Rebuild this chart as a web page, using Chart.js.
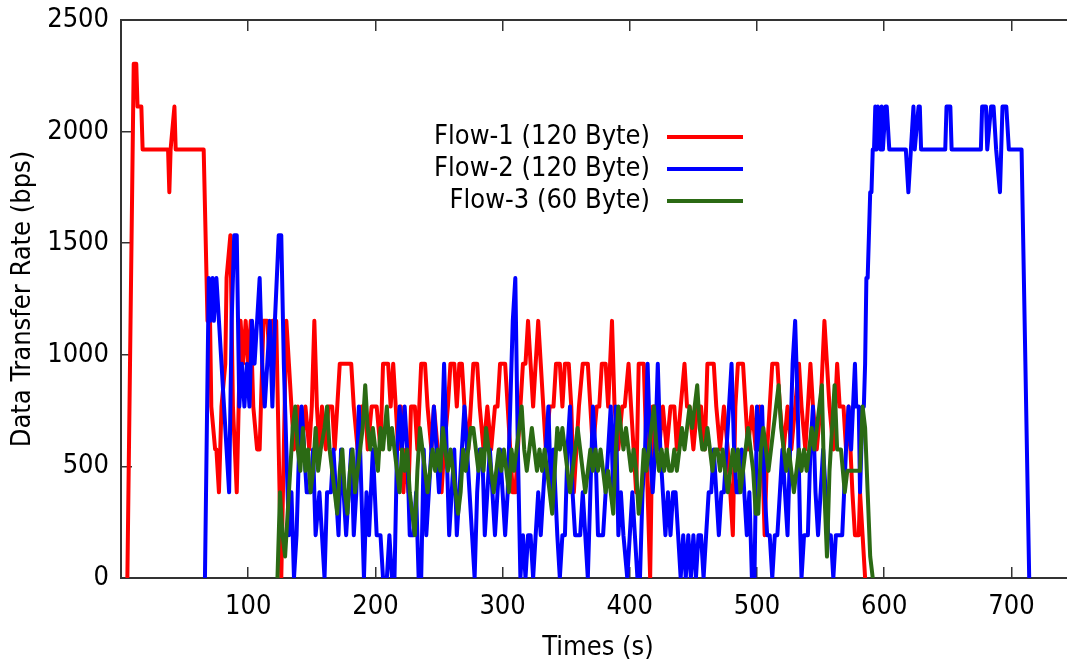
<!DOCTYPE html>
<html>
<head>
<meta charset="utf-8">
<script src="https://cdn.jsdelivr.net/npm/chart.js@4/dist/chart.umd.min.js"></script>
<style>
  html, body { margin: 0; padding: 0; background: #fff; overflow: hidden; width: 1067px; height: 664px; }
  canvas { display: block; }
</style>
</head>
<body>
<canvas id="rateChart" width="1076" height="664"></canvas>
<script>
// Sample times (s) and measured data transfer rates (bps) for each flow
const flow1Time = [5,10,12,13,16,17,37,38,39,42,43,65,68,70,71,74,75,77,79,82,83,86,88,91,94,96,98,100,102,104,107,109,112,115,117,119,122,124,126,130,132,134,136,139,142,145,148,150,152,154,156,158,161,163,166,168,170,172,181,183,186,189,192,194,197,201,204,206,210,212,214,216,218,220,222,224,226,228,231,233,236,239,241,244,246,249,252,254,257,259,262,264,266,268,270,273,275,277,280,282,285,288,291,294,296,298,302,304,306,308,310,312,314,316,318,320,322,324,326,328,330,332,334,337,340,342,345,347,349,352,354,356,358,360,363,367,369,371,374,376,378,381,383,386,388,391,394,396,399,401,403,405,407,411,413,416,418,421,423,426,429,432,435,437,440,443,445,447,450,453,456,459,461,466,468,471,474,477,479,481,483,485,489,491,493,496,499,502,504,506,508,510,512,516,518,521,524,527,530,533,535,538,540,542,544,547,550,553,555,557,560,563,565,568,570,572,575,577,580,581,583,585];
const flow1Rate = [0,2304,2304,2112,2112,1920,1920,1728,1920,2112,1920,1920,1152,1152,768,576,576,384,768,960,1344,1536,768,384,1152,960,1152,960,1152,768,576,576,1152,1152,960,1152,1152,576,0,1152,960,768,576,768,576,768,576,768,1152,768,576,768,576,768,768,576,768,960,960,768,576,768,768,576,768,768,576,960,960,768,960,768,576,768,384,576,384,768,768,576,960,960,768,576,768,576,384,576,768,960,960,768,960,960,768,576,768,960,960,768,576,768,576,768,768,960,960,768,576,384,384,576,768,960,960,1152,960,768,960,1152,960,768,576,768,768,960,960,768,960,960,768,384,576,768,960,960,768,576,768,768,960,960,768,1152,768,576,768,768,960,768,576,384,960,960,576,0,768,768,576,768,576,768,768,576,768,960,768,768,576,768,768,576,960,960,768,576,768,576,384,192,768,960,960,768,576,768,576,768,576,192,576,768,960,960,768,576,768,576,768,960,768,576,768,960,768,576,768,1152,960,768,576,960,768,768,576,768,384,192,192,384,192,0];

const flow2Time = [66,69,70,72,73,75,77,79,81,83,85,87,89,91,93,95,97,99,101,103,105,107,109,111,113,115,117,119,121,124,126,128,130,132,134,136,138,140,142,144,146,149,151,153,156,158,160,162,165,167,169,171,173,175,177,179,181,183,185,187,189,191,193,195,198,201,204,206,209,211,213,215,217,219,221,223,225,227,230,232,234,236,238,240,242,244,246,248,250,252,254,256,258,260,262,264,266,268,270,272,274,276,278,280,282,284,286,288,290,292,294,296,298,300,302,304,306,308,310,312,314,316,318,320,322,324,326,328,330,332,334,336,338,340,343,345,347,349,351,353,355,357,361,363,365,367,369,371,373,375,379,381,383,385,387,389,391,393,395,398,400,402,404,406,408,410,412,414,416,418,420,422,424,426,428,430,432,434,436,438,440,442,444,446,448,450,452,454,456,458,460,462,464,466,468,470,472,474,476,478,480,482,484,486,488,490,492,494,496,498,500,502,504,506,508,510,512,514,516,518,520,522,524,526,528,530,532,534,535,537,540,542,544,546,548,550,552,554,556,558,560,562,565,567,570,572,574,577,578,580,581,583,584,585,586,587,588,589,590,591,592,593,594,595,597,598,599,601,602,604,617,619,621,623,624,627,628,629,648,649,652,653,676,677,680,681,684,686,688,691,693,696,698,708,714];
const flow2Rate = [0,1344,1152,1344,1152,1344,1152,960,768,576,384,1152,1536,1536,768,960,768,960,768,1152,960,1152,1344,960,768,960,1152,768,1152,1536,1536,960,576,192,384,0,192,576,768,576,384,384,576,192,384,192,0,384,384,576,384,192,576,384,192,384,576,192,384,768,384,0,384,192,576,192,192,0,0,192,0,0,576,768,576,768,576,192,192,384,0,0,576,192,384,576,768,576,384,576,960,576,192,384,576,192,384,576,768,576,384,192,0,384,576,576,192,384,576,384,192,384,576,384,192,384,768,1152,1344,576,0,192,0,192,192,0,192,384,192,384,576,768,384,576,192,0,192,192,576,768,384,192,192,384,192,0,384,768,576,192,192,384,576,768,384,768,192,384,192,0,192,384,192,0,0,384,576,960,576,384,576,960,576,384,192,384,192,384,384,192,0,192,0,192,0,192,0,192,192,0,192,384,384,576,384,192,384,384,576,768,960,576,384,384,576,384,192,384,0,0,768,576,768,384,192,192,0,192,192,384,576,384,192,576,960,1152,768,192,0,192,192,576,768,384,192,384,576,384,192,192,0,192,192,192,576,768,576,960,768,768,384,768,768,960,1344,1344,1536,1728,1728,1920,1920,2112,1920,2112,1920,2112,1920,2112,2112,1920,1920,1728,1920,2112,1920,2112,2112,1920,1920,2112,2112,1920,1920,2112,2112,1920,2112,2112,1920,1728,2112,2112,1920,1920,0];

const flow3Time = [123,125,127,129,131,133,135,137,139,141,143,145,147,149,151,153,155,157,160,162,164,166,168,170,172,174,176,178,180,182,184,186,188,190,192,194,196,198,200,202,204,206,209,211,213,215,217,219,221,223,225,227,229,231,233,235,237,239,241,243,245,247,249,251,253,255,257,259,261,263,265,267,269,271,273,275,277,279,281,283,285,287,289,291,293,295,297,299,301,303,305,307,309,311,313,315,317,319,321,323,325,327,329,331,333,335,337,339,341,343,345,347,349,351,353,355,357,359,361,363,365,367,369,371,373,375,377,379,381,383,385,387,389,391,393,395,397,399,401,403,405,407,409,411,413,415,417,419,421,423,425,427,429,431,433,435,437,439,441,443,445,447,449,451,453,455,457,459,461,463,465,467,469,471,473,475,477,479,481,483,485,487,489,491,493,495,497,499,501,503,505,507,509,511,513,515,517,519,521,523,525,527,529,531,533,535,537,539,541,543,545,547,549,551,553,555,557,559,561,563,566,569,571,581,583,585,587,589,591];
const flow3Rate = [0,384,192,96,288,480,672,768,576,480,672,480,576,384,480,672,480,576,672,768,576,480,384,288,480,576,384,288,480,576,384,480,576,672,864,672,576,672,576,480,672,576,768,576,672,576,480,384,576,480,576,384,288,192,480,672,576,480,384,480,576,480,576,480,672,576,480,576,480,384,288,384,576,480,576,672,672,576,480,576,480,672,576,480,384,480,576,480,576,480,384,576,480,576,672,768,576,480,576,672,576,480,576,480,576,480,384,288,480,672,576,672,576,480,384,480,576,672,576,480,384,480,576,480,576,480,576,480,384,480,384,288,576,768,672,576,672,576,480,576,480,288,384,576,480,576,672,768,576,480,576,480,576,480,480,576,480,576,672,576,672,768,672,768,864,672,576,576,672,576,480,576,576,480,576,480,384,480,576,480,576,384,480,576,672,576,480,288,288,576,672,576,480,576,672,768,864,672,576,480,576,480,384,480,576,480,576,480,576,672,576,672,768,864,384,96,480,672,864,576,576,384,480,480,768,672,384,96,0];

const flowNames = ['Flow-1 (120 Byte)', 'Flow-2 (120 Byte)', 'Flow-3 (60 Byte)'];
const timeTicks = [100, 200, 300, 400, 500, 600, 700];
const rateTicks = [0, 500, 1000, 1500, 2000, 2500];

const FONT = '"DejaVu Sans Condensed", "DejaVu Sans", sans-serif';
const FONT_SIZE = 27;
const AXIS_COLOR = '#333333';
const LINE_WIDTH = 4;

function toPoints(times, rates) {
  return times.map((t, i) => ({ x: t, y: rates[i] }));
}

// Gnuplot-style key inside the plot: right-aligned caption, then a line sample
const insideKey = {
  id: 'insideKey',
  afterDatasetsDraw(chart) {
    const ctx = chart.ctx;
    ctx.save();
    ctx.font = FONT_SIZE + 'px ' + FONT;
    ctx.textAlign = 'right';
    ctx.textBaseline = 'middle';
    chart.data.datasets.forEach((ds, i) => {
      const y = 137 + i * 32;
      ctx.fillStyle = '#000';
      ctx.fillText(ds.label, 650, y);
      ctx.strokeStyle = ds.borderColor;
      ctx.lineWidth = LINE_WIDTH;
      ctx.beginPath();
      ctx.moveTo(667, y);
      ctx.lineTo(743, y);
      ctx.stroke();
    });
    ctx.restore();
  }
};

// Fixed scale box sizes; label overhang must not push the plot area around
function fixBox(size, prop) {
  return s => {
    s[prop] = size;
    s.paddingTop = 0; s.paddingBottom = 0; s.paddingLeft = 0; s.paddingRight = 0;
  };
}

const tickFont = { family: FONT, size: FONT_SIZE };
const inwardGrid = { drawOnChartArea: false, drawTicks: true, tickLength: -11, color: AXIS_COLOR, lineWidth: 1.5 };
const frame = { display: true, color: AXIS_COLOR, width: 2 };

new Chart(document.getElementById('rateChart'), {
  type: 'line',
  data: {
    datasets: [
      { label: flowNames[0], data: toPoints(flow1Time, flow1Rate), borderColor: '#ff0000', order: 2 },
      { label: flowNames[1], data: toPoints(flow2Time, flow2Rate), borderColor: '#0000ff', order: 1 },
      { label: flowNames[2], data: toPoints(flow3Time, flow3Rate), borderColor: '#2b6a14', order: 0 }
    ]
  },
  options: {
    responsive: false,
    animation: false,
    events: [],
    layout: { padding: { left: 0, right: 1, top: 0, bottom: 0 } },
    elements: {
      line: { borderWidth: LINE_WIDTH, tension: 0, fill: false, borderJoinStyle: 'round', borderCapStyle: 'round' },
      point: { radius: 0 }
    },
    plugins: { legend: { display: false }, tooltip: { enabled: false } },
    scales: {
      x: {
        type: 'linear', position: 'bottom', min: 0, max: 750,
        afterBuildTicks: s => { s.ticks = timeTicks.map(v => ({ value: v })); },
        afterFit: fixBox(86, 'height'),
        ticks: { font: tickFont, color: '#000', padding: 24, maxRotation: 0, callback: v => String(v) },
        grid: inwardGrid,
        border: frame,
        title: { display: true, text: 'Times (s)', font: tickFont, color: '#000', padding: { top: 0, bottom: 0 } }
      },
      xTop: {
        type: 'linear', position: 'top', min: 0, max: 750,
        afterBuildTicks: s => { s.ticks = timeTicks.map(v => ({ value: v })); },
        afterFit: fixBox(20, 'height'),
        ticks: { display: false },
        grid: inwardGrid,
        border: frame
      },
      y: {
        type: 'linear', position: 'left', min: 0, max: 2500,
        afterBuildTicks: s => { s.ticks = rateTicks.map(v => ({ value: v })); },
        afterFit: fixBox(121, 'width'),
        ticks: { font: tickFont, color: '#000', padding: 23, callback: v => String(v) },
        grid: inwardGrid,
        border: frame,
        title: { display: true, text: 'Data Transfer Rate (bps)', font: tickFont, color: '#000', padding: { top: 7, bottom: 0 } }
      }
    }
  },
  plugins: [insideKey]
});
</script>
</body>
</html>
